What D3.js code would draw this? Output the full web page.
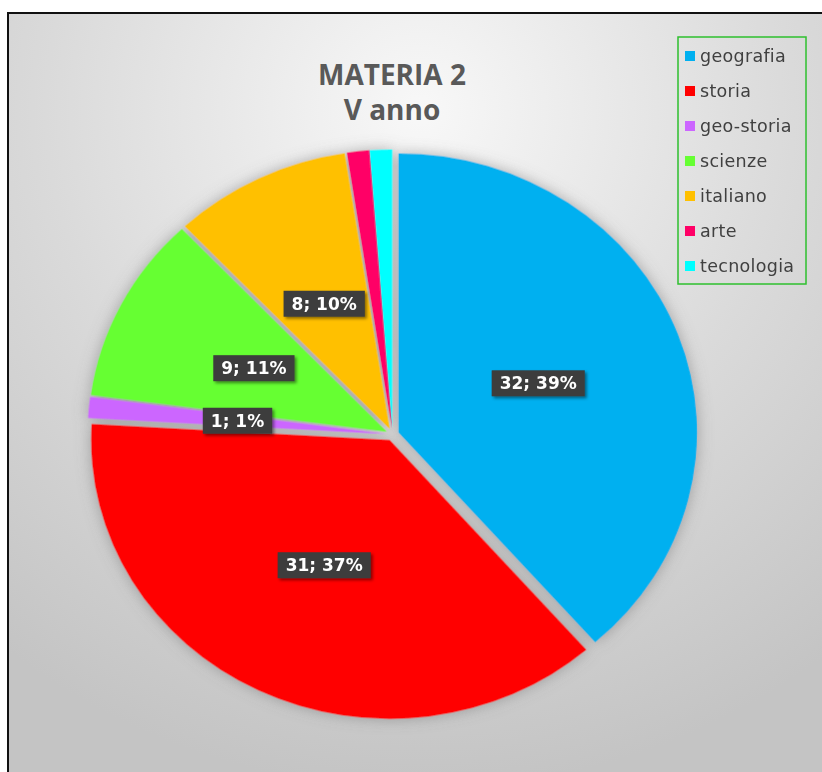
<!DOCTYPE html>
<html>
<head>
<meta charset="utf-8">
<script src="https://cdn.jsdelivr.net/npm/d3@7"></script>
<style>
  html, body { margin: 0; padding: 0; background: #ffffff; }
  svg { display: block; }
</style>
</head>
<body>
<svg id="chart" width="822" height="772"></svg>
<script>
// Subjects and their counts (clockwise from 12 o'clock)
const categories = ["geografia", "storia", "geo-storia", "scienze", "italiano", "arte", "tecnologia"];
const values = [32, 31, 1, 9, 8, 1, 1];
const colors = ["#00b0f0", "#ff0000", "#cc66ff", "#66ff33", "#ffc000", "#ff0066", "#00ffff"];
const showLabel = [true, true, true, true, true, false, false];
const titleLines = ["MATERIA 2", "V anno"];

const svg = d3.select("#chart");
const W = 822, H = 772;

const defs = svg.append("defs");

// background: light centre fading to grey at the edges
const bg = defs.append("radialGradient")
  .attr("id", "bgGrad")
  .attr("gradientUnits", "userSpaceOnUse")
  .attr("cx", 420).attr("cy", 110).attr("r", 680);
bg.append("stop").attr("offset", "0%").attr("stop-color", "#f8f8f8");
bg.append("stop").attr("offset", "55%").attr("stop-color", "#dadada");
bg.append("stop").attr("offset", "100%").attr("stop-color", "#c4c4c4");

// soft halo under the pie
const halo = defs.append("filter").attr("id", "halo")
  .attr("x", "-20%").attr("y", "-20%").attr("width", "140%").attr("height", "140%");
halo.append("feGaussianBlur").attr("in", "SourceAlpha").attr("stdDeviation", 7).attr("result", "b");
halo.append("feFlood").attr("flood-color", "#707070").attr("flood-opacity", 0.55);
halo.append("feComposite").attr("in2", "b").attr("operator", "in").attr("result", "s");
const hm = halo.append("feMerge");
hm.append("feMergeNode").attr("in", "s");
hm.append("feMergeNode").attr("in", "SourceGraphic");

// small shadow for the value tags
const tagShadow = defs.append("filter").attr("id", "tagShadow")
  .attr("x", "-20%").attr("y", "-30%").attr("width", "150%").attr("height", "180%");
tagShadow.append("feDropShadow").attr("dx", 2).attr("dy", 2).attr("stdDeviation", 1.5)
  .attr("flood-color", "#000").attr("flood-opacity", 0.45);

// chart area with border
svg.append("rect").attr("x", 8).attr("y", 13).attr("width", 840).attr("height", 790)
  .attr("fill", "url(#bgGrad)").attr("stroke", "#111").attr("stroke-width", 2);

// title
const title = svg.append("text")
  .attr("x", 392).attr("text-anchor", "middle")
  .attr("font-family", "'Open Sans', sans-serif").attr("font-weight", 700)
  .attr("font-size", 28).attr("fill", "#595959");
title.selectAll("tspan").data(titleLines).join("tspan")
  .attr("x", 392).attr("y", (d, i) => 85 + i * 35).text(d => d);

// pie geometry
const cx = 392.5, cy = 434.5;
const ry = 279, sx = 1.07;       // horizontal stretch of the pie
const explode = 6;
const labelR = ry * 0.5 + explode;

const pie = d3.pie().sort(null).value(d => d.value);
const arcs = pie(categories.map((c, i) => ({ name: c, value: values[i], color: colors[i], label: showLabel[i] })));
const arc = d3.arc().innerRadius(0).outerRadius(ry);
const mid = d => (d.startAngle + d.endAngle) / 2;

const pieG = svg.append("g")
  .attr("transform", `translate(${cx},${cy}) scale(${sx},1)`)
  .attr("filter", "url(#halo)");

pieG.selectAll("path").data(arcs).join("path")
  .attr("transform", d => `translate(${Math.sin(mid(d)) * explode},${-Math.cos(mid(d)) * explode})`)
  .attr("d", arc)
  .attr("fill", d => d.data.color);

// value tags: "count; percent"
const total = d3.sum(values);
const fmt = d => `${d.value}; ${Math.round(d.value / total * 100)}%`;
const tags = svg.append("g").selectAll("g").data(arcs.filter(d => d.data.label)).join("g")
  .attr("transform", d => `translate(${cx + sx * Math.sin(mid(d)) * labelR},${cy - Math.cos(mid(d)) * labelR})`);
tags.append("rect").attr("fill", "#3c3c3c").attr("filter", "url(#tagShadow)");
tags.append("text")
  .attr("text-anchor", "middle").attr("dy", "0.36em")
  .attr("font-family", "'DejaVu Sans', sans-serif").attr("font-weight", 700)
  .attr("font-size", 17).attr("fill", "#ffffff")
  .text(d => fmt(d));
tags.each(function () {
  const g = d3.select(this);
  const w = g.select("text").node().getComputedTextLength();
  g.select("rect").attr("x", -w / 2 - 8).attr("y", -13).attr("width", w + 16).attr("height", 26);
});

// legend
const legend = svg.append("g");
legend.append("rect").attr("x", 678).attr("y", 37).attr("width", 128).attr("height", 247)
  .attr("fill", "none").attr("stroke", "#2ec02e").attr("stroke-width", 1.5);
const items = legend.selectAll("g.item").data(categories).join("g").attr("class", "item")
  .attr("transform", (d, i) => `translate(685,${56 + i * 35})`);
items.append("rect").attr("x", 0).attr("y", -5).attr("width", 10).attr("height", 10)
  .attr("fill", (d, i) => colors[i]);
items.append("text").attr("x", 15).attr("dy", "0.32em")
  .attr("font-family", "'DejaVu Sans', sans-serif").attr("font-size", 17.5)
  .attr("letter-spacing", 0.3)
  .attr("fill", "#404040").text(d => d);
</script>
</body>
</html>
